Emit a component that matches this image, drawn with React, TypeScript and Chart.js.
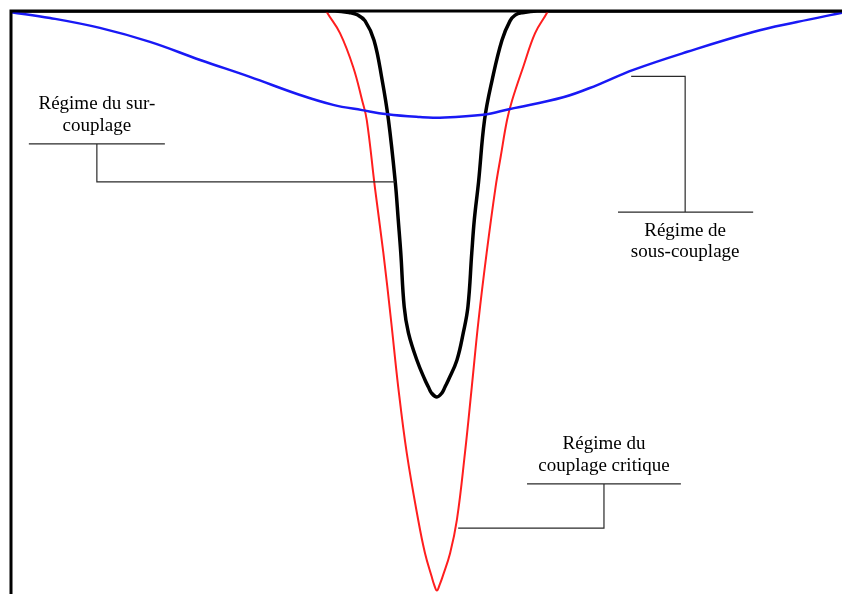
import React, { useEffect, useRef } from "react";
import { Chart, registerables } from "chart.js";

Chart.register(...registerables);

// Normalised detuning (x) and reflection magnitude (y)
const X_MIN = -1.0;
const X_MAX = 0.955;

const blueX = [-1.0, -0.908, -0.791, -0.673, -0.555, -0.438, -0.32, -0.242, -0.174, -0.115, -0.038, 0.0, 0.111, 0.174, 0.299, 0.379, 0.464, 0.591, 0.746, 0.849, 0.955];
const blueY = [0.998, 0.988, 0.971, 0.947, 0.916, 0.887, 0.856, 0.839, 0.83, 0.823, 0.818, 0.817, 0.822, 0.832, 0.852, 0.873, 0.899, 0.93, 0.964, 0.981, 0.997];

const redX = [-0.264, -0.256, -0.226, -0.195, -0.174, -0.163, -0.144, -0.124, -0.106, -0.089, -0.069, -0.042, -0.026, -0.01, -0.005, 0.002, 0.009, 0.015, 0.033, 0.049, 0.068, 0.084, 0.1, 0.119, 0.14, 0.152, 0.167, 0.179, 0.205, 0.233, 0.261, 0.268];
const redY = [1.01, 0.997, 0.962, 0.904, 0.847, 0.813, 0.698, 0.585, 0.47, 0.355, 0.242, 0.127, 0.07, 0.029, 0.017, 0.006, 0.017, 0.029, 0.07, 0.127, 0.242, 0.355, 0.47, 0.585, 0.698, 0.75, 0.813, 0.847, 0.904, 0.962, 0.997, 1.01];

const blackX = [-1.0, -0.238, -0.202, -0.184, -0.167, -0.146, -0.127, -0.112, -0.096, -0.089, -0.083, -0.075, -0.065, -0.045, -0.026, -0.018, -0.011, 0.002, 0.014, 0.021, 0.029, 0.049, 0.064, 0.075, 0.084, 0.09, 0.1, 0.114, 0.132, 0.155, 0.174, 0.186, 0.202, 0.238, 0.955];
const blackY = [1.0, 1.0, 0.997, 0.993, 0.983, 0.95, 0.882, 0.813, 0.707, 0.642, 0.585, 0.493, 0.448, 0.401, 0.367, 0.355, 0.345, 0.338, 0.345, 0.355, 0.367, 0.401, 0.448, 0.493, 0.585, 0.642, 0.707, 0.813, 0.882, 0.95, 0.983, 0.993, 0.997, 1.0, 1.0];

// Annotation labels (text lines, underline extent, elbow, target on curve)
const labelTexts = [
  ["Régime du sur-", "couplage"],
  ["Régime de", "sous-couplage"],
  ["Régime du", "couplage critique"],
];
const labelUnderlineY = [0.772, 0.655, 0.189];
const labelUnderlineX0 = [-0.958, 0.428, 0.214];
const labelUnderlineX1 = [-0.638, 0.746, 0.576];
const labelElbowX = [-0.798, 0.586, 0.395];
const labelTargetX = [-0.096, 0.459, 0.052];
const labelTargetY = [0.707, 0.888, 0.113];
const labelTextAbove = [true, false, true];

const toPts = (xs: number[], ys: number[]) => xs.map((x, i) => ({ x, y: ys[i] }));

const framePlugin = {
  id: "frameAndNotes",
  afterDatasetsDraw(chart: any) {
    const { ctx, chartArea, scales } = chart;
    const xs = scales.x;
    const ys = scales.y;
    ctx.save();
    // frame: top and left
    ctx.strokeStyle = "#000";
    ctx.lineWidth = 3;
    ctx.lineCap = "square";
    ctx.beginPath();
    ctx.moveTo(chartArea.right + 2, chartArea.top);
    ctx.lineTo(chartArea.left, chartArea.top);
    ctx.lineTo(chartArea.left, chartArea.bottom + 2);
    ctx.stroke();

    // annotations
    ctx.lineWidth = 1.2;
    ctx.strokeStyle = "#2a2a2a";
    ctx.lineCap = "butt";
    ctx.fillStyle = "#000";
    ctx.font = '19px "Liberation Serif", "Times New Roman", serif';
    ctx.textAlign = "center";
    ctx.textBaseline = "alphabetic";
    labelTexts.forEach((lines, i) => {
      const uy = ys.getPixelForValue(labelUnderlineY[i]);
      const ux0 = xs.getPixelForValue(labelUnderlineX0[i]);
      const ux1 = xs.getPixelForValue(labelUnderlineX1[i]);
      const ex = xs.getPixelForValue(labelElbowX[i]);
      const tx = xs.getPixelForValue(labelTargetX[i]);
      const ty = ys.getPixelForValue(labelTargetY[i]);
      ctx.beginPath();
      ctx.moveTo(ux0, uy);
      ctx.lineTo(ux1, uy);
      ctx.moveTo(ex, uy);
      ctx.lineTo(ex, ty);
      ctx.lineTo(tx, ty);
      ctx.stroke();
      if (labelTextAbove[i]) {
        ctx.fillText(lines[0], ex, uy - 35);
        ctx.fillText(lines[1], ex, uy - 13);
      } else {
        ctx.fillText(lines[0], ex, uy + 24);
        ctx.fillText(lines[1], ex, uy + 45);
      }
    });
    ctx.restore();
  },
};

export default function App() {
  const ref = useRef<HTMLCanvasElement>(null);
  useEffect(() => {
    if (!ref.current) return;
    const chart = new Chart(ref.current, {
      type: "line",
      data: {
        datasets: [
          {
            data: toPts(blueX, blueY),
            borderColor: "rgb(25,25,245)",
            borderWidth: 2.5,
            pointRadius: 0,
            tension: 0.4,
            fill: false,
          },
          {
            data: toPts(redX, redY),
            borderColor: "rgb(255,30,30)",
            borderWidth: 2,
            pointRadius: 0,
            tension: 0.4,
            fill: false,
          },
          {
            data: toPts(blackX, blackY),
            borderColor: "#000",
            borderWidth: 3.5,
            pointRadius: 0,
            tension: 0.4,
            fill: false,
          },
        ],
      },
      options: {
        animation: false,
        responsive: false,
        devicePixelRatio: 1,
        layout: { padding: { left: 11, top: 11, right: 0, bottom: 0 } },
        plugins: { legend: { display: false }, tooltip: { enabled: false } },
        scales: {
          x: { type: "linear", min: X_MIN, max: X_MAX, display: false },
          y: { type: "linear", min: 0, max: 1, display: false },
        },
      },
      plugins: [framePlugin],
    });
    return () => chart.destroy();
  }, []);
  return (
    <div style={{ position: "fixed", left: 0, top: 0, width: 842, height: 594, background: "#fff" }}>
      <canvas ref={ref} width={842} height={594} style={{ display: "block" }} />
    </div>
  );
}
